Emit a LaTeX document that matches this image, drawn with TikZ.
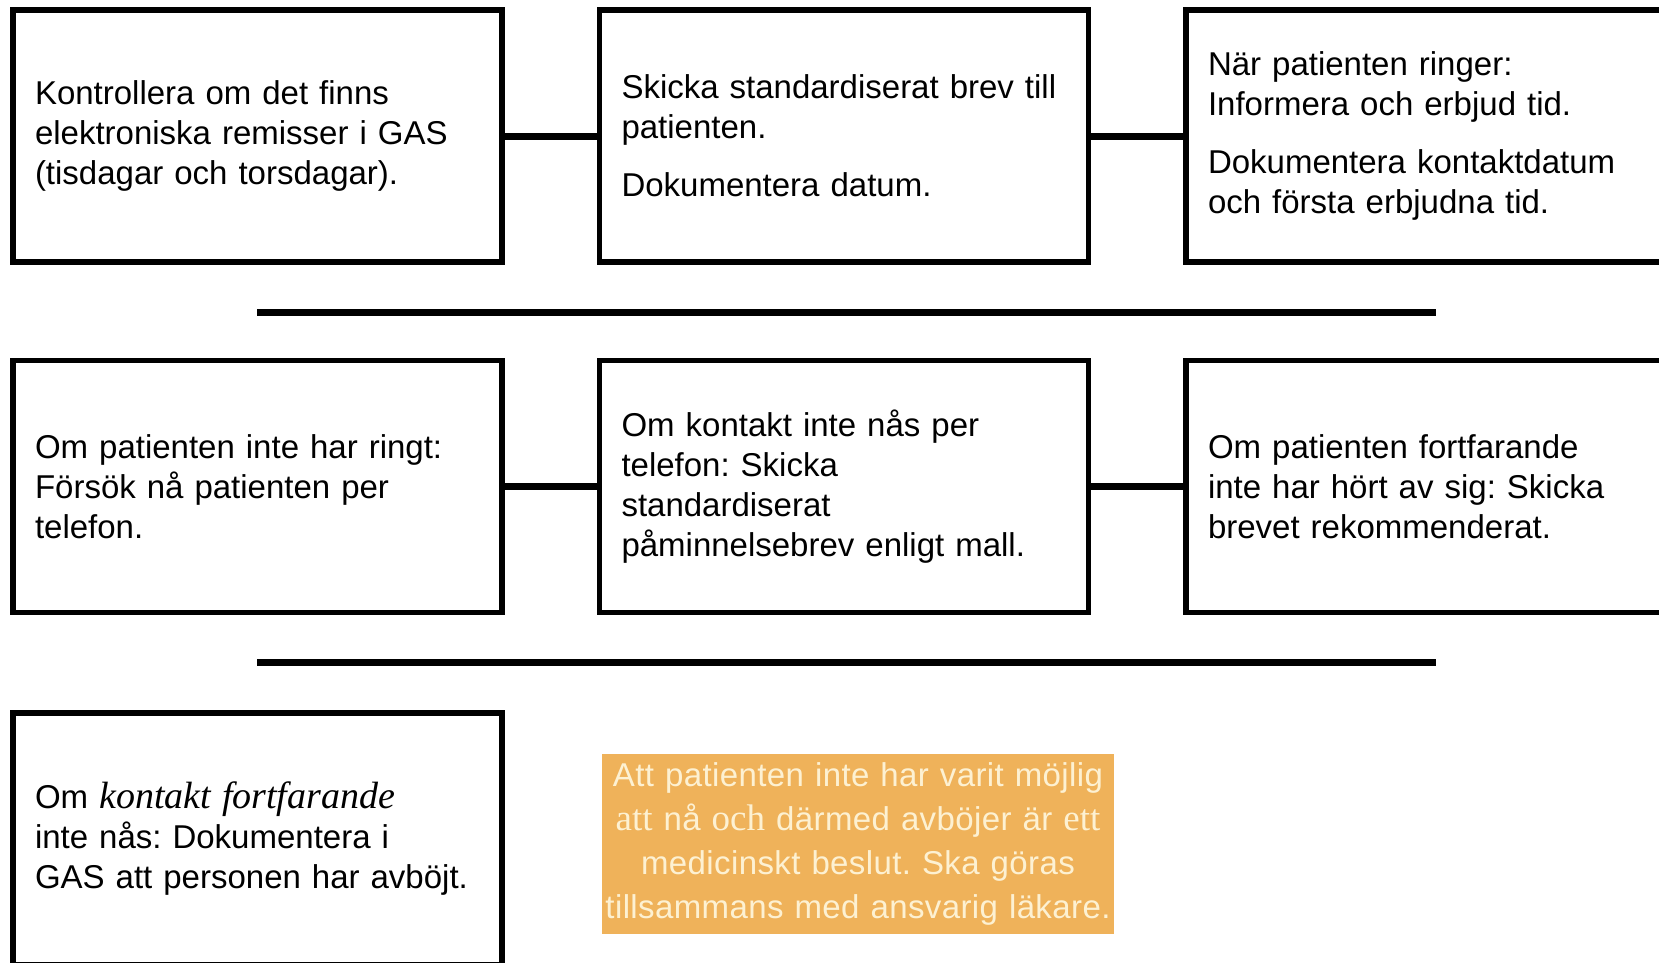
\documentclass[tikz,border=0pt]{standalone}
\usepackage{fontspec}
\setmainfont{Liberation Sans}
\newfontfamily\timesfont{Liberation Serif}
\usetikzlibrary{positioning}
\definecolor{notefill}{HTML}{EFB25A}
\definecolor{notetext}{HTML}{FDF1D2}
\frenchspacing

\begin{document}
\begin{tikzpicture}
        [
            x=1pt,
            y=-1pt,
            node distance=92pt,
            every node/.style={
                font=\fontsize{33}{40}\selectfont
            },
            stepbox/.style={
                draw,
                line width=5.5pt,
                minimum width=489pt,
                minimum height=252pt,
                text width=445pt,
                inner sep=0pt,
                align=left
            },
            notebox/.style={
                fill=notefill,
                text=notetext,
                minimum width=512pt,
                minimum height=180pt,
                text width=512pt,
                inner sep=0pt,
                align=center,
                font=\fontsize{33}{44}\selectfont\addfontfeatures{LetterSpace=1.2}
            },
            link/.style={
                draw,
                line width=7pt
            },
            divider/.style={
                draw,
                line width=6.5pt
            }
         ]
        \useasboundingbox (0,0) rectangle (1659,962);
        \clip (0,0) rectangle (1659,962);

        \node[stepbox] (k1) at (257.5,136)
            {Kontrollera om det finns\\ elektroniska remisser i GAS\\ (tisdagar och torsdagar).};
        \node[stepbox, right=of k1] (k2)
            {Skicka standardiserat brev till\\ patienten.\\[18pt] Dokumentera datum.};
        \node[stepbox, right=of k2] (k3)
            {När patienten ringer:\\ Informera och erbjud tid.\\[18pt] Dokumentera kontaktdatum\\ och första erbjudna tid.};

        \node[stepbox, below=93pt of k1] (k4)
            {Om patienten inte har ringt:\\ Försök nå patienten per\\ telefon.};
        \node[stepbox, right=of k4] (k5)
            {Om kontakt inte nås per\\ telefon: Skicka\\ standardiserat\\ påminnelsebrev enligt mall.};
        \node[stepbox, right=of k5] (k6)
            {Om patienten fortfarande\\ inte har hört av sig: Skicka\\ brevet rekommenderat.};

        \node[stepbox, below=95pt of k4] (k7)
            {Om {\timesfont\itshape\fontsize{38}{40}\selectfont kontakt fortfarande}\\ inte nås: Dokumentera i\\ GAS att personen har avböjt.};
        \node[notebox] (note) at (858,844)
            {Att patienten inte har varit möjlig\\ {\timesfont\fontsize{37}{44}\selectfont att} nå {\timesfont\fontsize{37}{44}\selectfont och} därmed avböjer är {\timesfont\fontsize{37}{44}\selectfont ett}\\ medicinskt beslut. Ska göras\\ tillsammans med ansvarig läkare.};

        \draw[link] (k1) -- (k2);
        \draw[link] (k2) -- (k3);
        \draw[link] (k4) -- (k5);
        \draw[link] (k5) -- (k6);

        \coordinate (d1a) at (257,312.5);
        \coordinate (d1b) at (1436,312.5);
        \coordinate (d2a) at (257,662.5);
        \coordinate (d2b) at (1436,662.5);
        \draw[divider] (d1a) -- (d1b);
        \draw[divider] (d2a) -- (d2b);
    \end{tikzpicture}
\end{document}
